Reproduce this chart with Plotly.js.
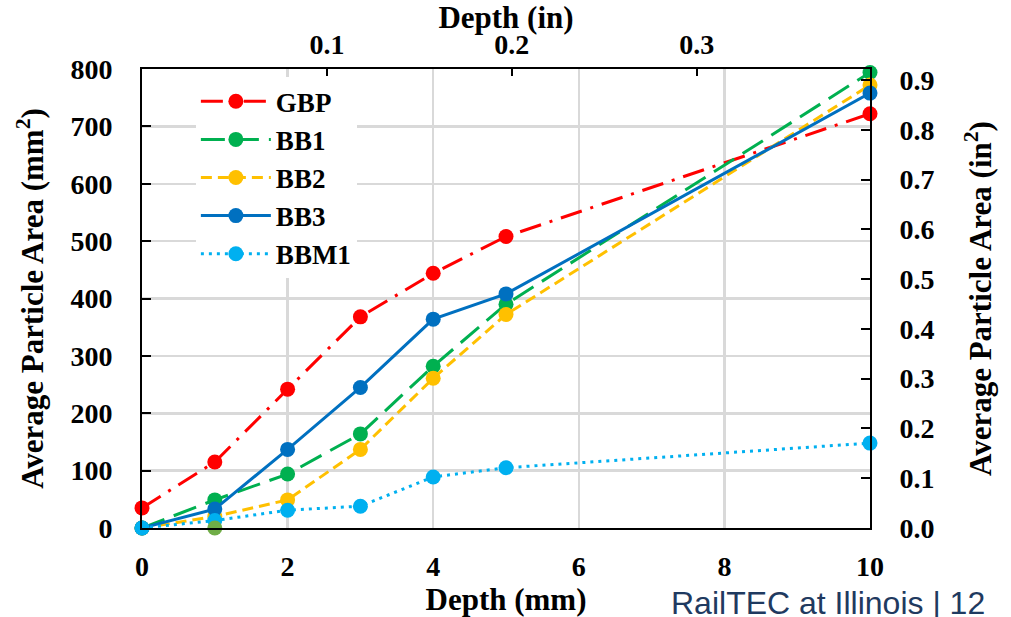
<!DOCTYPE html>
<html>
<head>
<meta charset="utf-8">
<script src="https://cdn.plot.ly/plotly-3.0.1.min.js"></script>
<style>html,body{margin:0;padding:0;background:#fff;}#chart{width:1011px;height:617px;}</style>
</head>
<body>
<div id="chart"></div>
<script>
// Depth (mm)
const depthMM = [0, 1, 2, 3, 4, 5, 10];
// Average particle area (mm²)
const GBP  = [35, 115, 242, 368, 444, 508, 722];
const BB1  = [0, 49, 94, 164, 282, 390, 794];
const BB2  = [0, 20, 49, 137, 261, 372, 772];
const BB3  = [0, 33, 137, 245, 364, 408, 758];
const BBM1 = [0, 13, 31, 38, 89, 105, 148];
// stray point shown in the source chart (not in legend)
const extraX = [1];
const extraY = [0];
// secondary axis ticks
const inTicks = [0.1, 0.2, 0.3];

const seriesNames = ['GBP', 'BB1', 'BB2', 'BB3', 'BBM1'];
const seriesData = [GBP, BB1, BB2, BB3, BBM1];
const colors = ['#FF0000', '#00B050', '#FFC000', '#0070C0', '#00B0F0'];
const dashes = ['22px,9px,3px,9px', '24px,10px', '11px,6px', 'solid', '3px,5px'];

const traces = seriesNames.map((n, i) => ({
  x: depthMM, y: seriesData[i], name: n, type: 'scatter', mode: 'lines+markers',
  line: {color: colors[i], width: 3, dash: dashes[i]},
  marker: {color: colors[i], size: 15},
  cliponaxis: false
}));
traces.push({
  x: extraX, y: extraY, type: 'scatter', mode: 'markers', showlegend: false,
  marker: {color: '#70AD47', size: 15}, cliponaxis: false
});
// empty trace so the inch axes (top / right) get drawn
traces.push({
  x: [], y: [], xaxis: 'x2', yaxis: 'y2', type: 'scatter', mode: 'markers',
  showlegend: false, hoverinfo: 'skip'
});

const tickFont = {family: 'Liberation Serif', size: 28, color: '#000', weight: 'bold'};
const titleFont = {family: 'Liberation Serif', size: 31, color: '#000', weight: 'bold'};

const layout = {
  width: 1011, height: 617,
  margin: {l: 142, r: 141, t: 69, b: 89, pad: 0},
  paper_bgcolor: '#fff', plot_bgcolor: '#fff',
  font: {family: 'Liberation Serif', weight: 'bold', color: '#000'},
  showlegend: true,
  legend: {
    x: 0.074, y: 0.982, xanchor: 'left', yanchor: 'top',
    bgcolor: '#fff', borderwidth: 0,
    font: {family: 'Liberation Serif', size: 27, color: '#000', weight: 'bold'},
    tracegroupgap: 0, itemwidth: 70
  },
  xaxis: {
    range: [0, 10], dtick: 2, tick0: 0,
    showline: true, linecolor: '#000', linewidth: 2,
    showgrid: true, gridcolor: '#D9D9D9', gridwidth: 2.5,
    zeroline: false, ticks: '', tickfont: tickFont, ticklabelstandoff: 12,
    title: {text: 'Depth (mm)', font: titleFont, standoff: 4}
  },
  yaxis: {
    range: [0, 800], dtick: 100, tick0: 0,
    showline: true, linecolor: '#000', linewidth: 2,
    showgrid: true, gridcolor: '#D9D9D9', gridwidth: 2.5,
    zeroline: false, ticks: 'inside', ticklen: 9, tickwidth: 2, tickcolor: '#000',
    tickfont: tickFont, ticklabelstandoff: 22,
    title: {text: 'Average Particle Area (mm<sup>2</sup>)', font: titleFont, standoff: 18}
  },
  xaxis2: {
    overlaying: 'x', side: 'top', anchor: 'y',
    range: [0, 10 / 25.4], tickvals: inTicks, tickformat: '.1f',
    showline: true, linecolor: '#000', linewidth: 2,
    showgrid: false, zeroline: false,
    ticks: 'inside', ticklen: 7, tickwidth: 2, tickcolor: '#000',
    tickfont: tickFont, ticklabelstandoff: 2,
    title: {text: 'Depth (in)', font: titleFont, standoff: 0}
  },
  yaxis2: {
    overlaying: 'y', side: 'right', anchor: 'x',
    range: [0, 0.922], dtick: 0.1, tick0: 0, tickformat: '.1f',
    showline: true, linecolor: '#000', linewidth: 2,
    showgrid: false, zeroline: false,
    ticks: 'inside', ticklen: 9, tickwidth: 2, tickcolor: '#000',
    tickfont: tickFont, ticklabelstandoff: 22,
    title: {text: 'Average Particle Area (in<sup>2</sup>)', font: titleFont, standoff: 36}
  },
  annotations: [{
    text: 'RailTEC at Illinois | 12', xref: 'paper', yref: 'paper',
    x: 0.724, y: -0.12, xanchor: 'left', yanchor: 'top', showarrow: false,
    font: {family: 'Liberation Sans', size: 32, color: '#1F3A60', weight: 'normal'}
  }]
};

Plotly.newPlot('chart', traces, layout, {displayModeBar: false, staticPlot: true});
</script>
</body>
</html>
